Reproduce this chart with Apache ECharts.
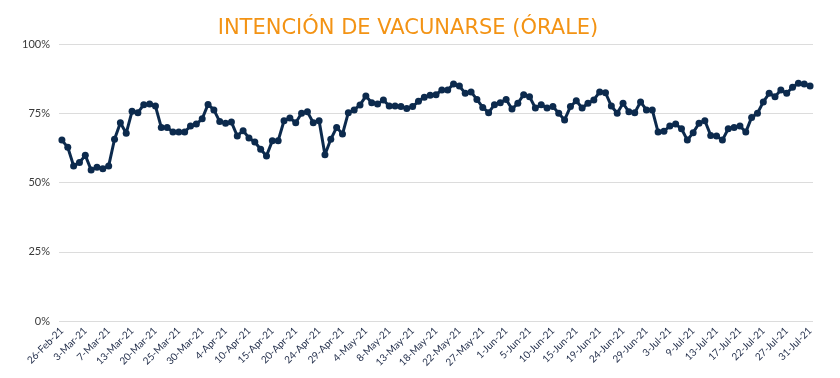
<!DOCTYPE html>
<html>
<head>
<meta charset="utf-8">
<script src="https://cdn.jsdelivr.net/npm/echarts@6/dist/echarts.min.js"></script>
<style>
  html, body { margin: 0; padding: 0; background: #fff; }
  #main { width: 840px; height: 378px; }
</style>
</head>
<body>
<div id="main"></div>
<script>
// fechas (solo se ve una de cada cuatro en el eje)
var dates = [
  '26-Feb-21','27-Feb-21','28-Feb-21','1-Mar-21','3-Mar-21','4-Mar-21','5-Mar-21','6-Mar-21',
  '7-Mar-21','8-Mar-21','10-Mar-21','12-Mar-21','13-Mar-21','15-Mar-21','16-Mar-21','18-Mar-21',
  '20-Mar-21','21-Mar-21','22-Mar-21','23-Mar-21','25-Mar-21','26-Mar-21','28-Mar-21','29-Mar-21',
  '30-Mar-21','31-Mar-21','1-Apr-21','2-Apr-21','4-Apr-21','5-Apr-21','7-Apr-21','8-Apr-21',
  '10-Apr-21','11-Apr-21','12-Apr-21','14-Apr-21','15-Apr-21','16-Apr-21','17-Apr-21','19-Apr-21',
  '20-Apr-21','21-Apr-21','22-Apr-21','23-Apr-21','24-Apr-21','25-Apr-21','26-Apr-21','28-Apr-21',
  '29-Apr-21','30-Apr-21','1-May-21','3-May-21','4-May-21','5-May-21','6-May-21','7-May-21',
  '8-May-21','10-May-21','11-May-21','12-May-21','13-May-21','14-May-21','15-May-21','17-May-21',
  '18-May-21','19-May-21','20-May-21','21-May-21','22-May-21','24-May-21','25-May-21','26-May-21',
  '27-May-21','28-May-21','29-May-21','31-May-21','1-Jun-21','2-Jun-21','3-Jun-21','4-Jun-21',
  '5-Jun-21','7-Jun-21','8-Jun-21','9-Jun-21','10-Jun-21','11-Jun-21','12-Jun-21','14-Jun-21',
  '15-Jun-21','16-Jun-21','17-Jun-21','18-Jun-21','19-Jun-21','21-Jun-21','22-Jun-21','23-Jun-21',
  '24-Jun-21','25-Jun-21','26-Jun-21','28-Jun-21','29-Jun-21','30-Jun-21','1-Jul-21','2-Jul-21',
  '3-Jul-21','5-Jul-21','6-Jul-21','8-Jul-21','9-Jul-21','10-Jul-21','11-Jul-21','12-Jul-21',
  '13-Jul-21','14-Jul-21','15-Jul-21','16-Jul-21','17-Jul-21','19-Jul-21','20-Jul-21','21-Jul-21',
  '22-Jul-21','23-Jul-21','24-Jul-21','26-Jul-21','27-Jul-21','28-Jul-21','29-Jul-21','30-Jul-21',
  '31-Jul-21'
];

// intención de vacunarse, %
var intencion = [
  65.3, 62.7, 56.0, 57.2, 59.8, 54.5, 55.5, 55.0, 56.0, 65.6,
  71.6, 67.8, 75.7, 75.2, 78.1, 78.3, 77.6, 69.9, 69.9, 68.2,
  68.2, 68.2, 70.4, 71.1, 73.0, 78.2, 76.2, 72.0, 71.4, 71.8,
  66.8, 68.7, 66.1, 64.6, 62.0, 59.6, 65.1, 65.1, 72.3, 73.3,
  71.6, 75.0, 75.5, 71.6, 72.3, 60.0, 65.6, 69.9, 67.5, 75.2,
  76.2, 78.0, 81.2, 78.8, 78.3, 79.8, 77.6, 77.6, 77.4, 76.7,
  77.4, 79.3, 80.8, 81.5, 81.7, 83.4, 83.4, 85.6, 84.8, 82.2,
  82.7, 80.0, 77.1, 75.2, 78.1, 78.8, 80.0, 76.5, 78.6, 81.7,
  81.0, 76.9, 78.1, 76.9, 77.4, 75.0, 72.6, 77.4, 79.5, 76.9,
  78.6, 79.8, 82.7, 82.4, 77.6, 75.0, 78.6, 75.5, 75.2, 79.1,
  76.2, 76.2, 68.2, 68.5, 70.4, 71.1, 69.4, 65.3, 68.0, 71.4,
  72.3, 67.0, 66.8, 65.3, 69.4, 69.9, 70.4, 68.2, 73.5, 75.0,
  79.1, 82.2, 81.0, 83.4, 82.2, 84.4, 85.8, 85.6, 84.8
];

var myChart = echarts.init(document.getElementById('main'), null, { renderer: 'canvas' });

var option = {
  backgroundColor: '#ffffff',
  animation: false,
  title: {
    text: 'INTENCIÓN DE VACUNARSE (ÓRALE)',
    left: 403,
    top: 13,
    textAlign: 'center',
    textStyle: {
      fontFamily: 'DejaVu Sans',
      fontSize: 21,
      fontWeight: 'normal',
      color: '#F39314'
    }
  },
  grid: {
    left: 59,
    right: 27,
    top: 44,
    bottom: 57
  },
  xAxis: {
    type: 'category',
    data: dates,
    boundaryGap: true,
    axisLine: { show: false },
    axisTick: { show: false },
    axisLabel: {
      interval: 3,
      rotate: 45,
      margin: 8,
      fontFamily: 'Lato',
      fontSize: 10,
      color: '#1f2b48'
    }
  },
  yAxis: {
    type: 'value',
    min: 0,
    max: 1,
    interval: 0.25,
    axisLine: { show: false },
    axisTick: { show: false },
    splitLine: { lineStyle: { color: '#dcdcdc', width: 1 } },
    axisLabel: {
      margin: 9,
      fontFamily: 'Lato',
      fontSize: 11,
      color: '#3a3a3a',
      formatter: function (v) { return Math.round(v * 100) + '%'; }
    }
  },
  series: [{
    name: 'Intención de vacunarse',
    type: 'line',
    data: intencion.map(function (v) { return v / 100; }),
    symbol: 'circle',
    symbolSize: 7,
    showAllSymbol: true,
    lineStyle: { color: '#0C2A4D', width: 3 },
    itemStyle: { color: '#0C2A4D' }
  }]
};

myChart.setOption(option);
</script>
</body>
</html>
